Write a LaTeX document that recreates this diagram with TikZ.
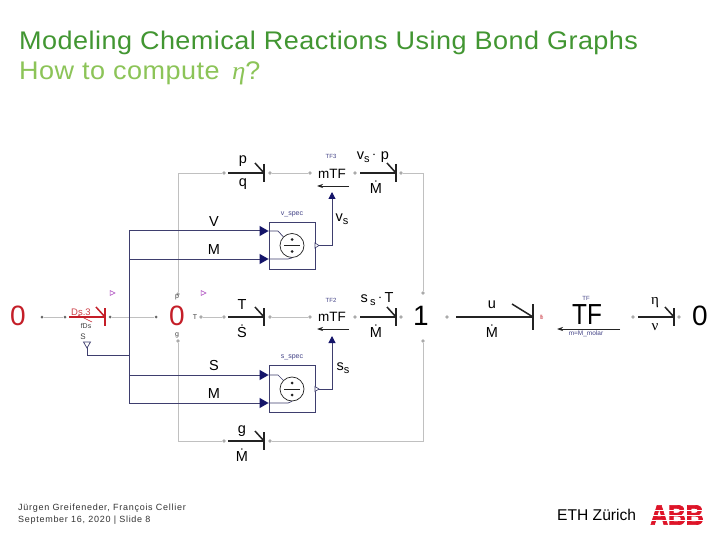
\documentclass[tikz,border=0pt]{standalone}
\usepackage{fontspec}
\setmainfont{Liberation Sans}
\newfontfamily\etafont{Liberation Serif}
\newfontfamily\footfont[LetterSpace=8]{Liberation Sans}
\newfontfamily\titlefont[LetterSpace=1.7]{Liberation Sans}
\newfontfamily\logofont[FakeBold=2.5]{Liberation Sans Bold}
\usetikzlibrary{arrows.meta,calc}
\definecolor{titlegreen}{RGB}{66,150,50}
\definecolor{subgreen}{RGB}{140,196,88}
\definecolor{wire}{RGB}{192,192,192}
\definecolor{dotgray}{RGB}{170,170,170}
\definecolor{navyw}{RGB}{62,62,110}
\definecolor{navya}{RGB}{20,20,105}
\definecolor{redb}{RGB}{196,30,40}
\definecolor{bondk}{RGB}{35,35,35}
\definecolor{purp}{RGB}{170,70,190}
\definecolor{abbred}{RGB}{222,20,40}
\newcommand{\barhook}[2]{%
  \draw[bondline] ($(#1)+(0,-#2)$) -- ($(#1)+(0,#2)$);
  \draw[bondline] (#1) -- ($(#1)+(-#2,-#2-1)$);}
\tikzset{
  wireline/.style={draw=wire,line width=0.8pt},
  jdot/.style={circle,fill=dotgray,inner sep=0pt,minimum size=3.6pt},
  kdot/.style={circle,fill=gray!80!black,inner sep=0pt,minimum size=3pt},
  bondline/.style={draw=bondk,line width=1.5pt},
  redbond/.style={draw=redb,line width=1.5pt},
  sig/.style={draw=navyw,line width=1pt},
  sigarrow/.style={draw=navyw,line width=1pt,-{Triangle[length=9pt,width=10pt,color=navya]}},
  thin sig/.style={draw=navyw,line width=0.7pt},
  smallarrow/.style={draw=bondk,line width=0.7pt,-{Stealth[length=6pt,width=4pt]}},
  blockbox/.style={draw=navyw,line width=0.9pt,fill=white,minimum width=46pt,minimum height=47pt,inner sep=0pt},
  divcircle/.style={circle,draw=bondk,line width=0.7pt,fill=white,minimum size=24pt,inner sep=0pt},
  lab/.style={font=\fontsize{14.5}{15}\selectfont,text=black,inner sep=0pt},
  tiny/.style={font=\fontsize{7}{7}\selectfont,text=black!75,inner sep=0pt},
  tinyblue/.style={font=\fontsize{7}{7}\selectfont,text=navya!80,inner sep=0pt},
  big/.style={font=\fontsize{28}{28}\selectfont,inner sep=0pt},
  titleline/.style={font=\titlefont\fontsize{25.5}{26}\selectfont,text=titlegreen,inner sep=0pt,anchor=base west,xscale=1.06},
  foot/.style={font=\footfont\fontsize{9}{9}\selectfont,text=black!80,inner sep=0pt,anchor=base west},
}
\begin{document}
\begin{tikzpicture}[x=1pt,y=-1pt]
\useasboundingbox (0,0) rectangle (720,540);
\fill[white] (0,0) rectangle (720,540);

% titles
\node[titleline] (t1) at (19,50) {Modeling Chemical Reactions Using Bond Graphs};
\node[titleline,text=subgreen] (t2) at (19,80) {How to compute {\etafont\itshape\,η}?};

% junctions
\node[big,text=redb] (zl) at (18,316) {0};
\node[big,text=redb] (zm) at (177,316) {0};
\node[big,text=black] (one) at (421,316) {1};
\node[big,text=black] (zr) at (700,316) {0};
\node[font=\fontsize{29}{29}\selectfont,inner sep=0pt,xscale=0.84] (tf) at (587,315) {TF};
\node[lab,font=\fontsize{13.5}{14}\selectfont] (mtf3) at (332,174) {mTF};
\node[lab,font=\fontsize{13.5}{14}\selectfont] (mtf2) at (332,317) {mTF};

% dots
\foreach \n/\x/\y in {a1/178/294,a2/178/341,b1/224/173,b2/270/173,b3/310/173,b4/355/173,b5/401/173,
  c1/201/317,c2/224/317,c3/270/317,c4/310/317,c5/355/317,c6/401/317,
  d1/224/441,d2/270/441,e1/423/293,e2/423/341,f1/447/317,f2/633/317,f3/679/317}
  \node[jdot] (\n) at (\x,\y) {};
\foreach \n/\x/\y in {g1/42/317,g2/65/317,g3/110/317,g4/156/317}
  \node[kdot] (\n) at (\x,\y) {};

% corners of the wires
\coordinate (tl) at (178,173);
\coordinate (tr) at (423,173);
\coordinate (bl) at (178,441);
\coordinate (br) at (423,441);

% gray wires
\draw[wireline] (a1) -- (tl) -- (b1);
\draw[wireline] (b2) -- (b3);
\draw[wireline] (b5) -- (tr) -- (e1);
\draw[wireline] (a2) -- (bl) -- (d1);
\draw[wireline] (d2) -- (br) -- (e2);
\draw[wireline] (c1) -- (c2);
\draw[wireline] (c3) -- (c4);
\draw[wireline] (g1) -- (g2);
\draw[wireline] (g3) -- (g4);

% signal bus
\coordinate (busT) at (129,231);
\coordinate (busB) at (129,403);
\coordinate (busS) at (129,355);
\coordinate (sensor) at (87,347);
\draw[sig] (busT) -- (busB);
\draw[sig] (busS) -- (sensor |- busS) -- (sensor);
\draw[sig,fill=white,line width=0.7pt] (83.5,342) -- (90.5,342) -- (87,348) -- cycle;

% blocks
\node[blockbox] (vbox) at (292,245.5) {};
\node[blockbox] (sbox) at (292,389) {};
\node[divcircle] (vdiv) at (292,245.5) {};
\node[divcircle] (sdiv) at (292,389) {};
\foreach \c in {vdiv,sdiv}{
  \draw[bondk,line width=0.7pt] ($(\c)+(-8,0)$) -- ($(\c)+(8,0)$);
  \fill[bondk] ($(\c)+(0,-6)$) circle (1.5pt);
  \fill[bondk] ($(\c)+(0,6)$) circle (1.5pt);
}
\node[tinyblue] (vlab) at (292,214) {v\_spec};
\node[tinyblue] (slab) at (292,357) {s\_spec};

% signals into the blocks
\coordinate (vi) at (vbox.west |- 0,231);
\coordinate (mi) at (vbox.west |- 0,259);
\coordinate (si) at (sbox.west |- 0,375);
\coordinate (ni) at (sbox.west |- 0,403);
\draw[sigarrow] (busT) -- (vi);
\draw[sigarrow] (busT |- mi) -- (mi);
\draw[sigarrow] (busT |- si) -- (si);
\draw[sigarrow] (busT |- ni) -- (ni);
\draw[thin sig] (vi) -- (278,231) -- (vdiv.135);
\draw[thin sig] (mi) -- (288,259) -- (vdiv.south);
\draw[thin sig] (si) -- (278,375) -- (sdiv.135);
\draw[thin sig] (ni) -- (288,403) -- (sdiv.south);

% block outputs
\coordinate (vout) at (332,192);
\coordinate (sout) at (332,336);
\draw[sig,-{Triangle[length=7pt,width=7pt,color=navya]}] (vbox.east) -- (vbox.east -| vout) -- (vout);
\draw[sig,-{Triangle[length=7pt,width=7pt,color=navya]}] (sbox.east) -- (sbox.east -| sout) -- (sout);
\draw[navyw,fill=white,line width=0.6pt] (315,243) -- (319,245.5) -- (315,248) -- cycle;
\draw[navyw,fill=white,line width=0.6pt] (315,386.5) -- (319,389) -- (315,391.5) -- cycle;

% bonds
\foreach \n/\x/\y in {s1/228/173,s2/360/173,s3/228/317,s4/360/317,s5/228/441}
  \coordinate (\n) at (\x,\y);
\foreach \n/\x/\y in {h1/264/173,h2/396/173,h3/264/317,h4/396/317,h5/264/441}
  \coordinate (\n) at (\x,\y);
\foreach \i in {1,...,5}{
  \draw[bondline] (s\i) -- (h\i);
  \barhook{h\i}{9}
}
\coordinate (s6) at (456,317);
\coordinate (h6) at (533,317);
\draw[bondline] (s6) -- (h6);
\draw[bondline] ($(h6)+(0,-13)$) -- ($(h6)+(0,13)$);
\draw[bondline] (h6) -- ($(h6)+(-21,-13)$);
\coordinate (s7) at (638,317);
\coordinate (h7) at (674,317);
\draw[bondline] (s7) -- (h7);
\barhook{h7}{9}

% red bond
\coordinate (s0) at (69,317);
\coordinate (h0) at (105,317);
\draw[redbond] (s0) -- (h0);
\draw[redbond] ($(h0)+(0,-9)$) -- ($(h0)+(0,9)$);
\draw[redbond] (h0) -- ($(h0)+(-9,-10)$);
\coordinate (slashA) at (78,315);
\coordinate (slashB) at (92,322);
\draw[redb,line width=0.5pt] (slashA) -- (slashB);

% transformer direction arrows
\coordinate (a3r) at (349,186);
\coordinate (a3l) at (317,186);
\coordinate (a2r) at (349,329);
\coordinate (a2l) at (317,329);
\coordinate (a1r) at (620,329);
\coordinate (a1l) at (557,329);
\draw[smallarrow] (a3r) -- (a3l);
\draw[smallarrow] (a2r) -- (a2l);
\draw[smallarrow] (a1r) -- (a1l);

% labels
\node[lab] (lp) at (243,161) {p};
\node[lab] (lq) at (243,184) {q};
\node[lab] (lV) at (214,222) {V};
\node[lab] (lM1) at (214,250) {M};
\node[lab] (lT) at (242,305) {T};
\node[lab] (lSd) at (242,331) {\.S};
\node[lab] (lS) at (214,366) {S};
\node[lab] (lM2) at (214,394) {M};
\node[lab] (lg) at (242,431) {g};
\node[lab] (lMd1) at (242,455) {\.M};
\node[lab] (lvp) at (373,157) {v\raisebox{-3pt}{\fontsize{11}{11}\selectfont s}\,\raisebox{1pt}{$\cdot$}\,\,p};
\node[lab] (lMd2) at (376,187) {\.M};
\node[lab] (lsT) at (377,299) {s\,\raisebox{-3pt}{\fontsize{11}{11}\selectfont s}\,\raisebox{1pt}{$\cdot$}\,T};
\node[lab] (lMd3) at (376,331) {\.M};
\node[lab] (lvs) at (342,219) {v\raisebox{-3pt}{\fontsize{11}{11}\selectfont s}};
\node[lab] (lss) at (343,368) {s\raisebox{-3pt}{\fontsize{11}{11}\selectfont s}};
\node[lab] (lu) at (492,305) {u};
\node[lab] (lMd4) at (492,331) {\.M};
\node[lab,font=\etafont\fontsize{15}{15}\selectfont] (leta) at (655,303) {η};
\node[lab,font=\etafont\fontsize{15}{15}\selectfont] (lnu) at (655,327) {ν};

\node[tinyblue,font=\fontsize{6}{6}\selectfont] (ltf3) at (331,156) {TF3};
\node[tinyblue,font=\fontsize{6}{6}\selectfont] (ltf2) at (331,300) {TF2};
\node[tinyblue,font=\fontsize{6}{6}\selectfont] (ltf) at (586,298) {TF};
\node[tinyblue,font=\fontsize{6.5}{6.5}\selectfont] (lmolar) at (586,334) {m=M\_molar};

\node[font=\fontsize{9.5}{10}\selectfont,text=redb!85,inner sep=0pt] (lds) at (81,312) {Ds.3};
\node[tiny] (lfds) at (86,326) {fDs};
\node[tiny,font=\fontsize{8}{8}\selectfont] (lsm) at (83,337) {S};
\node[tiny] (lsp) at (177,297) {p};
\node[tiny] (lsT2) at (195,317) {T};
\node[tiny] (lsg) at (177,335) {g};
\node[tiny,text=redb!70,font=\fontsize{6}{6}\selectfont] (lfl) at (542,317) {f\!\!b};

\draw[purp,line width=0.5pt,fill=white] (110,290.5) -- (115,293) -- (110,295.5) -- cycle;
\draw[purp,line width=0.5pt,fill=white] (201,290.5) -- (206,293) -- (201,295.5) -- cycle;

% footer
\node[foot] (f1) at (18,510) {Jürgen Greifeneder, François Cellier};
\node[foot] (f2) at (18,522) {September 16, 2020 | Slide 8};
\node[font=\fontsize{15.6}{16}\selectfont,text=black,inner sep=0pt,anchor=base west] (eth) at (557,520) {ETH Zürich};

% logo
\node[font=\logofont\fontsize{28}{28}\selectfont,text=abbred,inner sep=0pt,xscale=0.88] (abb) at (677,515) {ABB};
\foreach \yy in {510,515,520}
  \draw[white,line width=0.4pt] (650,\yy) -- (704,\yy);
\end{tikzpicture}
\end{document}
